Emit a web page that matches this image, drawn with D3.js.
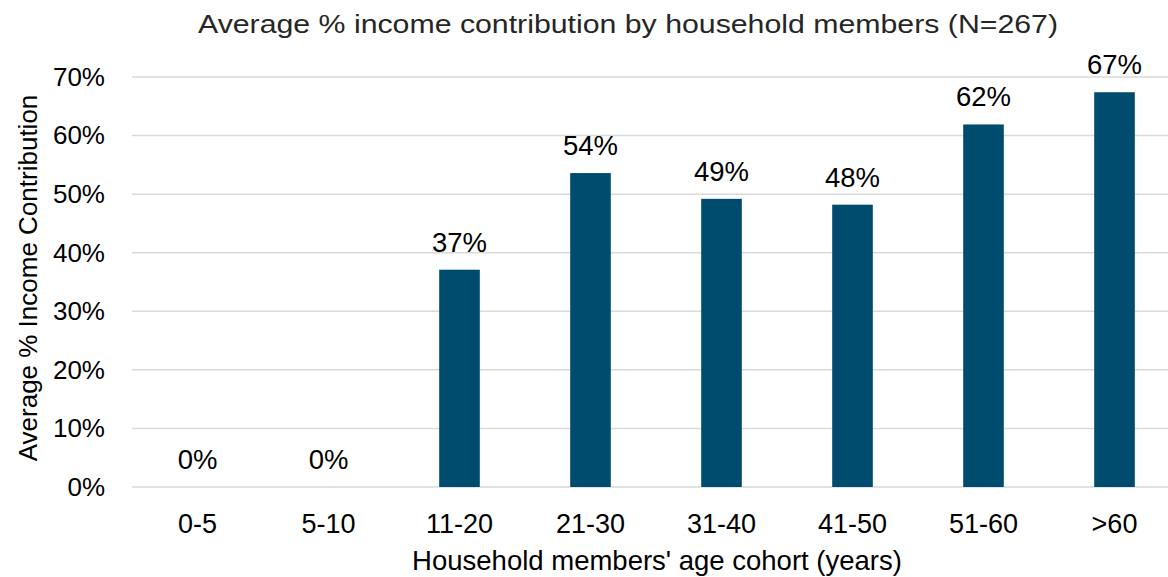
<!DOCTYPE html>
<html>
<head>
<meta charset="utf-8">
<script src="https://cdn.jsdelivr.net/npm/d3@7"></script>
<style>
  html, body { margin: 0; padding: 0; background: #fff; }
  svg { display: block; }
</style>
</head>
<body>
<svg id="chart" width="1168" height="577"></svg>
<script>
// Age cohorts and their average share of household income
const cohorts = ["0-5", "5-10", "11-20", "21-30", "31-40", "41-50", "51-60", ">60"];
const contribution = [0, 0, 0.371, 0.536, 0.492, 0.482, 0.619, 0.674];
const yTicks = [0, 0.1, 0.2, 0.3, 0.4, 0.5, 0.6, 0.7];

const titleText = "Average % income contribution by household members (N=267)";
const xTitle = "Household members' age cohort (years)";
const yTitle = "Average % Income Contribution";

const svg = d3.select("#chart");
const font = "'Liberation Sans', Arial, sans-serif";

const plot = { left: 132, right: 1180, top: 77, bottom: 487 };

const x = d3.scaleBand()
  .domain(cohorts)
  .range([plot.left, plot.right])
  .paddingInner(0.69)
  .paddingOuter(0.345);

const y = d3.scaleLinear()
  .domain([0, 0.7])
  .range([plot.bottom, plot.top]);

const pct = d3.format(".0%");

// Horizontal gridlines
svg.append("g")
  .selectAll("line")
  .data(yTicks)
  .join("line")
  .attr("x1", plot.left)
  .attr("x2", plot.right)
  .attr("y1", d => y(d))
  .attr("y2", d => y(d))
  .attr("stroke", "#d9d9d9")
  .attr("stroke-width", 1.5);

// Y axis labels
const yAxis = svg.append("g")
  .attr("transform", `translate(${plot.left},0)`)
  .call(d3.axisLeft(y).tickValues(yTicks).tickFormat(pct).tickSize(0).tickPadding(27));
yAxis.select(".domain").remove();
yAxis.selectAll("text")
  .attr("font-family", font)
  .attr("font-size", 26)
  .attr("fill", "#000");

// X axis labels
const xAxis = svg.append("g")
  .attr("transform", `translate(0,${plot.bottom})`)
  .call(d3.axisBottom(x).tickSize(0).tickPadding(27));
xAxis.select(".domain").remove();
xAxis.selectAll("text")
  .attr("font-family", font)
  .attr("font-size", 27)
  .attr("fill", "#000");

// Bars
svg.append("g")
  .selectAll("rect")
  .data(cohorts)
  .join("rect")
  .attr("x", d => x(d))
  .attr("width", x.bandwidth())
  .attr("y", (d, i) => y(contribution[i]))
  .attr("height", (d, i) => plot.bottom - y(contribution[i]))
  .attr("fill", "#004c6f");

// Value labels
svg.append("g")
  .selectAll("text")
  .data(cohorts)
  .join("text")
  .attr("x", d => x(d) + x.bandwidth() / 2)
  .attr("y", (d, i) => y(contribution[i]) - 18)
  .attr("text-anchor", "middle")
  .attr("font-family", font)
  .attr("font-size", 27.5)
  .attr("fill", "#000")
  .text((d, i) => pct(contribution[i]));

// Chart title
svg.append("text")
  .attr("x", 628)
  .attr("y", 33)
  .attr("text-anchor", "middle")
  .attr("font-family", font)
  .attr("font-size", 26.5)
  .attr("fill", "#262626")
  .attr("textLength", 860)
  .attr("lengthAdjust", "spacingAndGlyphs")
  .text(titleText);

// Axis titles
svg.append("text")
  .attr("x", 657)
  .attr("y", 570)
  .attr("text-anchor", "middle")
  .attr("font-family", font)
  .attr("font-size", 27.5)
  .attr("fill", "#000")
  .text(xTitle);

svg.append("text")
  .attr("transform", "translate(37,278) rotate(-90)")
  .attr("text-anchor", "middle")
  .attr("font-family", font)
  .attr("font-size", 26)
  .attr("fill", "#000")
  .text(yTitle);
</script>
</body>
</html>
